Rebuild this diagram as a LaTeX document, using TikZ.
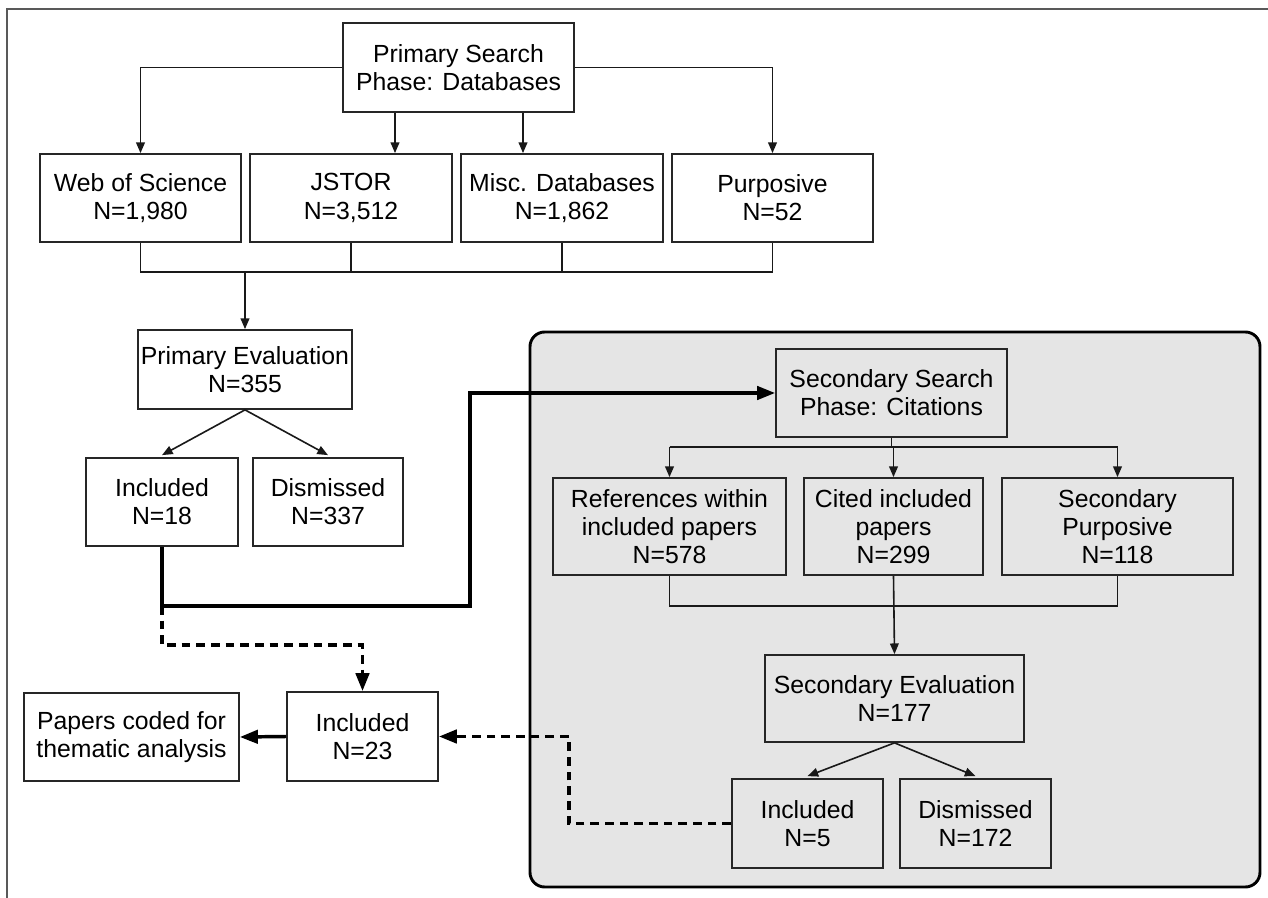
\documentclass[tikz,border=0pt]{standalone}
\usepackage{fontspec}
\setmainfont{Liberation Sans}
\usetikzlibrary{arrows.meta}
\begin{document}
\begin{tikzpicture}[x=0.75pt,y=-0.75pt,
  box/.style={draw=black!85, line width=1.3pt, align=center, inner sep=0pt,
    font=\fontsize{18.6}{21.2}\selectfont},
  conn/.style={draw=black!90, line width=1.2pt},
  tip/.style={-{Triangle[length=8pt,width=6.5pt]}},
  bigtip/.style={-{Triangle[length=13.5pt,width=10pt]}},
  heavy/.style={draw=black, line width=2.6pt},
  dashline/.style={draw=black, line width=2.7pt, dash pattern=on 6.5pt off 4.5pt}]
\useasboundingbox (0,0) rectangle (1268,898);
% frame
\draw[black!65, line width=1pt] (7,898) -- (7,9) -- (1268,9);
% panel
\draw[line width=2.2pt, fill=gray!20, rounded corners=11pt] (530,332) rectangle (1260,887);

% nodes
\node[box, minimum width=173.25pt, minimum height=66.75pt] (ps) at (458.5,67.5) {Primary Search\\Phase: Databases};
\node[box, minimum width=150.75pt, minimum height=66pt] (wos) at (140.5,198) {Web of Science\\N=1,980};
\node[box, minimum width=151.5pt, minimum height=66pt] (jstor) at (351,198) {JSTOR\\N=3,512};
\node[box, minimum width=151.5pt, minimum height=66pt] (misc) at (562,198) {Misc. Databases\\N=1,862};
\node[box, minimum width=150.75pt, minimum height=66pt] (purp) at (772.5,198) {Purposive\\N=52};
\node[box, minimum width=160.5pt, minimum height=59.25pt] (pe) at (245,369.5) {Primary Evaluation\\N=355};
\node[box, minimum width=114pt, minimum height=66pt] (inc1) at (162,502) {Included\\N=18};
\node[box, minimum width=112.5pt, minimum height=66pt] (dis1) at (328,502) {Dismissed\\N=337};
\node[box, minimum width=161.25pt, minimum height=66pt] (papers) at (131.5,737) {Papers coded for\\thematic analysis};
\node[box, minimum width=113.25pt, minimum height=66.75pt] (inc2) at (362.5,736.5) {Included\\N=23};
\node[box, minimum width=173.25pt, minimum height=66pt] (ss) at (891.5,393) {Secondary Search\\Phase: Citations};
\node[box, minimum width=174.75pt, minimum height=72.75pt] (refs) at (669.5,526.5) {References within\\included papers\\N=578};
\node[box, minimum width=134.25pt, minimum height=72.75pt] (cited) at (893.5,526.5) {Cited included\\papers\\N=299};
\node[box, minimum width=173.25pt, minimum height=72.75pt] (spurp) at (1117.5,526.5) {Secondary\\Purposive\\N=118};
\node[box, minimum width=194.25pt, minimum height=65.25pt] (se) at (894.5,698.5) {Secondary Evaluation\\N=177};
\node[box, minimum width=113.25pt, minimum height=66.75pt] (inc3) at (807.5,823.5) {Included\\N=5};
\node[box, minimum width=113.25pt, minimum height=66.75pt] (dis3) at (975.5,823.5) {Dismissed\\N=172};

% helper coordinates
\coordinate (j1) at (395,0);
\coordinate (j2) at (523,0);
\coordinate (m1) at (0,272);
\coordinate (t1) at (0,606);
\coordinate (tx) at (470,0);
\coordinate (d1) at (0,645);
\coordinate (dx) at (569,0);
\coordinate (s1) at (0,447);
\coordinate (s2) at (0,606);

% primary search distribution
\draw[conn, tip] (ps.west) -| (wos.north);
\draw[conn, tip] (ps.east) -| (purp.north);
\draw[conn, tip] (ps.south -| j1) -- (jstor.north -| j1);
\draw[conn, tip] (ps.south -| j2) -- (misc.north -| j2);
% merge
\draw[conn] (wos.south) |- (purp.south |- m1) -- (purp.south);
\draw[conn] (jstor.south) -- (jstor.south |- m1);
\draw[conn] (misc.south) -- (misc.south |- m1);
\draw[conn, tip] (pe.north |- m1) -- (pe.north);
% primary evaluation split
\draw[conn, tip] (pe.south) -- ([yshift=1.5pt]inc1.north);
\draw[conn, tip] (pe.south) -- ([yshift=1.5pt]dis1.north);

% secondary search
\draw[conn] (ss.south) -- (ss.south |- s1);
\draw[conn] (refs.north |- s1) -- (spurp.north |- s1);
\draw[conn, tip] (refs.north |- s1) -- (refs.north);
\draw[conn, tip] (cited.north |- s1) -- (cited.north);
\draw[conn, tip] (spurp.north |- s1) -- (spurp.north);
\draw[conn] (refs.south) |- (spurp.south |- s2) -- (spurp.south);
\draw[conn, tip] (cited.south) -- (se.north);
\draw[conn, tip] (se.south) -- ([yshift=1.5pt]inc3.north);
\draw[conn, tip] (se.south) -- ([yshift=1.5pt]dis3.north);

% thick and dashed connectors
\draw[heavy, bigtip] (inc1.south) |- (tx |- t1) |- (ss.west);
\draw[dashline, bigtip] (inc1.south |- t1) |- (inc2.north |- d1) -- (inc2.north);
\draw[heavy, bigtip] (inc2.west) -- (papers.east);
\draw[dashline, bigtip] (inc3.west) -| (dx |- inc2.east) -- (inc2.east);
\end{tikzpicture}
\end{document}
